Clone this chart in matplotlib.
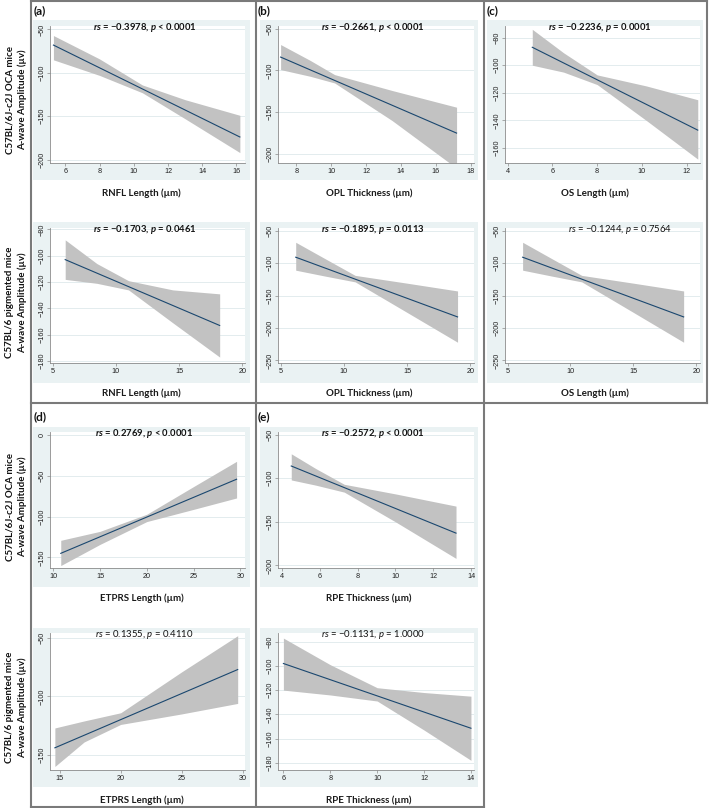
import matplotlib
matplotlib.use("Agg")
import matplotlib.pyplot as plt
from matplotlib.patches import Rectangle
from matplotlib.lines import Line2D

plt.rcParams['mathtext.fontset'] = 'custom'
plt.rcParams['mathtext.rm'] = 'Lato'
plt.rcParams['mathtext.it'] = 'Lato:italic'
plt.rcParams['mathtext.bf'] = 'Lato:bold'
try:
    plt.rcParams['mathtext.bfit'] = 'Lato:italic:bold'
except KeyError:
    pass

# ---------------- data ----------------
# (a) RNFL
RNFL_OCA_X = [5.3, 8.0, 10.5, 13.0, 16.2]
RNFL_OCA_UPPER = [-57, -84, -114, -131, -149]
RNFL_OCA_LOWER = [-85, -103, -123, -153, -192]
RNFL_OCA_FIT = [-68, -174]
RNFL_PIG_X = [6.0, 8.5, 11.0, 14.5, 18.2]
RNFL_PIG_UPPER = [-88, -106, -119, -126, -129]
RNFL_PIG_LOWER = [-118, -121, -126, -151, -177]
RNFL_PIG_FIT = [-103, -153]
# (b) OPL
OPL_OCA_X = [7.1, 8.8, 10.2, 13.5, 17.2]
OPL_OCA_UPPER = [-69, -88, -105, -124, -144]
OPL_OCA_LOWER = [-99, -107, -115, -160, -217]
OPL_OCA_FIT = [-84, -175]
OPL_PIG_X = [6.2, 8.5, 10.9, 15.0, 19.0]
OPL_PIG_UPPER = [-68, -93, -119, -131, -143]
OPL_PIG_LOWER = [-111, -120, -129, -176, -222]
OPL_PIG_FIT = [-91, -183]
# (c) OS
OS_OCA_X = [5.1, 6.5, 8.0, 10.2, 12.5]
OS_OCA_UPPER = [-74, -91, -107, -115, -125]
OS_OCA_LOWER = [-100, -105, -114, -140, -168]
OS_OCA_FIT = [-87, -147]
OS_PIG_X = [6.2, 8.5, 10.9, 15.0, 19.0]
OS_PIG_UPPER = [-68, -93, -119, -131, -143]
OS_PIG_LOWER = [-111, -120, -129, -176, -222]
OS_PIG_FIT = [-91, -183]
# (d) ETPRS
ETPRS_OCA_X = [10.8, 15.0, 20.0, 25.0, 29.6]
ETPRS_OCA_UPPER = [-129, -118, -97, -63, -32]
ETPRS_OCA_LOWER = [-160, -134, -106, -91, -77]
ETPRS_OCA_FIT = [-145, -54]
ETPRS_PIG_X = [14.6, 17.0, 20.0, 25.0, 29.6]
ETPRS_PIG_UPPER = [-127, -121, -114, -79, -48]
ETPRS_PIG_LOWER = [-160, -139, -124, -115, -106]
ETPRS_PIG_FIT = [-144, -77]
# (e) RPE
RPE_OCA_X = [4.5, 5.8, 7.3, 10.0, 13.2]
RPE_OCA_UPPER = [-72, -89, -107, -118, -132]
RPE_OCA_LOWER = [-102, -108, -116, -150, -192]
RPE_OCA_FIT = [-86, -163]
RPE_PIG_X = [6.0, 8.0, 10.0, 12.0, 14.0]
RPE_PIG_UPPER = [-77, -99, -118, -122, -125]
RPE_PIG_LOWER = [-120, -124, -129, -153, -178]
RPE_PIG_FIT = [-98, -151.5]

TITLES = [
    ("rs", "\u22120.3978", "< 0.0001"),
    ("rs", "\u22120.1703", "= 0.0461"),
    ("rs", "\u22120.2661", "< 0.0001"),
    ("rs", "\u22120.1895", "= 0.0113"),
    ("rs", "\u22120.2236", "= 0.0001"),
    ("rs", "\u22120.1244", "= 0.7564"),
    ("rs", "0.2769", "< 0.0001"),
    ("rs", "0.1355", "= 0.4110"),
    ("rs", "\u22120.2572", "< 0.0001"),
    ("rs", "\u22120.1131", "= 1.0000"),
]
TITLE_BOLD = [True, True, True, True, True, False, True, False, True, False]

XLABELS = ["RNFL Length (\u00b5m)", "RNFL Length (\u00b5m)",
           "OPL Thickness (\u00b5m)", "OPL Thickness (\u00b5m)",
           "OS Length (\u00b5m)", "OS Length (\u00b5m)",
           "ETPRS Length (\u00b5m)", "ETPRS Length (\u00b5m)",
           "RPE Thickness (\u00b5m)", "RPE Thickness (\u00b5m)"]

XTICKS = [[6, 8, 10, 12, 14, 16], [5, 10, 15, 20],
          [8, 10, 12, 14, 16, 18], [5, 10, 15, 20],
          [4, 6, 8, 10, 12], [5, 10, 15, 20],
          [10, 15, 20, 25, 30], [15, 20, 25, 30],
          [4, 6, 8, 10, 12, 14], [6, 8, 10, 12, 14]]
YTICKS = [[-200, -150, -100, -50], [-180, -160, -140, -120, -100, -80],
          [-200, -150, -100, -50], [-250, -200, -150, -100, -50],
          [-160, -140, -120, -100, -80], [-250, -200, -150, -100, -50],
          [-150, -100, -50, 0], [-150, -100, -50],
          [-200, -150, -100, -50], [-180, -160, -140, -120, -100, -80]]

ROW_LABEL_1 = ["C57BL/6J-c2J OCA mice", "C57BL/6 pigmented mice"]
ROW_LABEL_2 = "A-wave Amplitude (\u00b5v)"
PANEL_LETTERS = ["(a)", "(b)", "(c)", "(d)", "(e)"]

SERIES = [
    (RNFL_OCA_X, RNFL_OCA_UPPER, RNFL_OCA_LOWER, RNFL_OCA_FIT),
    (RNFL_PIG_X, RNFL_PIG_UPPER, RNFL_PIG_LOWER, RNFL_PIG_FIT),
    (OPL_OCA_X, OPL_OCA_UPPER, OPL_OCA_LOWER, OPL_OCA_FIT),
    (OPL_PIG_X, OPL_PIG_UPPER, OPL_PIG_LOWER, OPL_PIG_FIT),
    (OS_OCA_X, OS_OCA_UPPER, OS_OCA_LOWER, OS_OCA_FIT),
    (OS_PIG_X, OS_PIG_UPPER, OS_PIG_LOWER, OS_PIG_FIT),
    (ETPRS_OCA_X, ETPRS_OCA_UPPER, ETPRS_OCA_LOWER, ETPRS_OCA_FIT),
    (ETPRS_PIG_X, ETPRS_PIG_UPPER, ETPRS_PIG_LOWER, ETPRS_PIG_FIT),
    (RPE_OCA_X, RPE_OCA_UPPER, RPE_OCA_LOWER, RPE_OCA_FIT),
    (RPE_PIG_X, RPE_PIG_UPPER, RPE_PIG_LOWER, RPE_PIG_FIT),
]

# ---------------- layout (pixels) ----------------
W, H = 709, 808
GRID_POS = [(0, 0), (0, 1), (1, 0), (1, 1), (2, 0), (2, 1),
            (0, 2), (0, 3), (1, 2), (1, 3)]
XLIM = [(5.1, 16.5), (4.8, 20.2), (6.95, 18.2), (4.8, 20.3), (3.88, 12.6),
        (4.8, 20.3), (9.65, 30.5), (14.2, 30.2), (3.8, 14.15), (5.77, 14.13)]
YLIM = [(-204, -46), (-181.5, -79), (-210.8, -46.8), (-254, -46), (-170.8, -71.6),
        (-254, -46), (-163, 4), (-163, -45.7), (-203, -47), (-186, -72.8)]
TITLE_X = [None] * 10
TITLE_X[5] = 620

COL_AX = [(50, 245), (278, 474), (505, 700)]
ROW_AX = [(26, 163), (228, 363), (432, 568), (633, 770)]
COL_BG = [(33, 250), (260, 478), (487, 703)]
ROW_BG = [(20, 180), (222, 383), (427, 587), (628, 787)]
XLAB_Y = [193, 393, 598, 800]

BG = "#eaf2f3"
GRID = "#e3ecee"
BAND = "#c2c2c2"
NAVY = "#1a476f"
AXC = "#8a8a8a"
BORDER = "#7a7a7a"
FONT = ["Lato", "DejaVu Sans"]
TICKFONT = ["Liberation Sans", "DejaVu Sans"]


def fx(x):
    return x / W


def fy(y):
    return 1 - y / H


fig = plt.figure(figsize=(W / 100, H / 100), dpi=100)

for i, (xs, up, lo, fit) in enumerate(SERIES):
    c, r = GRID_POS[i]
    x0, x1 = COL_AX[c]
    y0, y1 = ROW_AX[r]
    bx0, bx1 = COL_BG[c]
    by0, by1 = ROW_BG[r]
    fig.patches.append(Rectangle((fx(bx0), fy(by1)), (bx1 - bx0) / W, (by1 - by0) / H,
                                 transform=fig.transFigure, facecolor=BG,
                                 edgecolor="none", zorder=-1))
    ax = fig.add_axes([fx(x0), fy(y1), (x1 - x0) / W, (y1 - y0) / H])
    ax.set_facecolor("white")
    ax.fill_between(xs, lo, up, color=BAND, lw=0, zorder=2)
    ax.plot([xs[0], xs[-1]], fit, color=NAVY, lw=0.8, zorder=3)
    ax.set_xlim(*XLIM[i])
    ax.set_ylim(*YLIM[i])
    ax.set_xticks(XTICKS[i])
    ax.set_yticks(YTICKS[i])
    ax.yaxis.grid(True, color=GRID, lw=0.7)
    ax.set_axisbelow(True)
    for s in ("top", "right"):
        ax.spines[s].set_visible(False)
    for s in ("left", "bottom"):
        ax.spines[s].set_color(AXC)
        ax.spines[s].set_linewidth(0.6)
    ax.tick_params(axis="both", length=2.2, width=0.5, color=AXC, pad=1.2,
                   labelsize=5.2, labelcolor="#222222")
    ax.tick_params(axis="y", labelrotation=90)
    for lab in ax.get_yticklabels():
        lab.set_verticalalignment("center")
        lab.set_family(TICKFONT)
    for lab in ax.get_xticklabels():
        lab.set_family(TICKFONT)

    name, rv, pv = TITLES[i]
    bold = TITLE_BOLD[i]
    if bold:
        s = r"$\mathbfit{" + name + r"}$ = " + rv + r", $\mathbfit{p}$ " + pv
        wt = "bold"
    else:
        s = r"$\mathit{" + name + r"}$ = " + rv + r", $\mathit{p}$ " + pv
        wt = "normal"
    tx = TITLE_X[i] if TITLE_X[i] is not None else (x0 + x1) / 2 - 3
    fig.text(fx(tx), fy(y0 + 1.5), s, ha="center", va="center", fontsize=6.8,
             fontweight=wt, family=FONT, color="#111111")

    fig.text(fx((bx0 + bx1) / 2), fy(XLAB_Y[r]), XLABELS[i], ha="center", va="center",
             fontsize=7, fontweight="bold", family=FONT, color="#1a1a1a")

for r in range(4):
    cy = (ROW_BG[r][0] + ROW_BG[r][1]) / 2
    fig.text(fx(10), fy(cy), ROW_LABEL_1[r % 2], rotation=90, ha="center", va="center",
             fontsize=7, fontweight="bold", family=FONT, color="#111111")
    fig.text(fx(22), fy(cy), ROW_LABEL_2, rotation=90, ha="center", va="center",
             fontsize=7, fontweight="bold", family=FONT, color="#111111")

LETTER_POS = [(34, 11), (258, 11), (487, 11), (34, 417), (258, 417)]
for t, (px, py) in zip(PANEL_LETTERS, LETTER_POS):
    fig.text(fx(px), fy(py), t, ha="left", va="center", fontsize=8.5,
             fontweight="bold", family=FONT, color="#111111")

SEGS = [((30.5, 1), (707, 1)), ((30.5, 403), (707, 403)), ((30.5, 807), (483.5, 807)),
        ((30.5, 0), (30.5, 808)), ((255.5, 0), (255.5, 808)), ((483.5, 0), (483.5, 808)),
        ((707, 0), (707, 403))]
for (ax0, ay0), (ax1, ay1) in SEGS:
    fig.add_artist(Line2D([fx(ax0), fx(ax1)], [fy(ay0), fy(ay1)], transform=fig.transFigure,
                          color=BORDER, lw=1.5, zorder=10))

fig.savefig("out.png", dpi=100)
